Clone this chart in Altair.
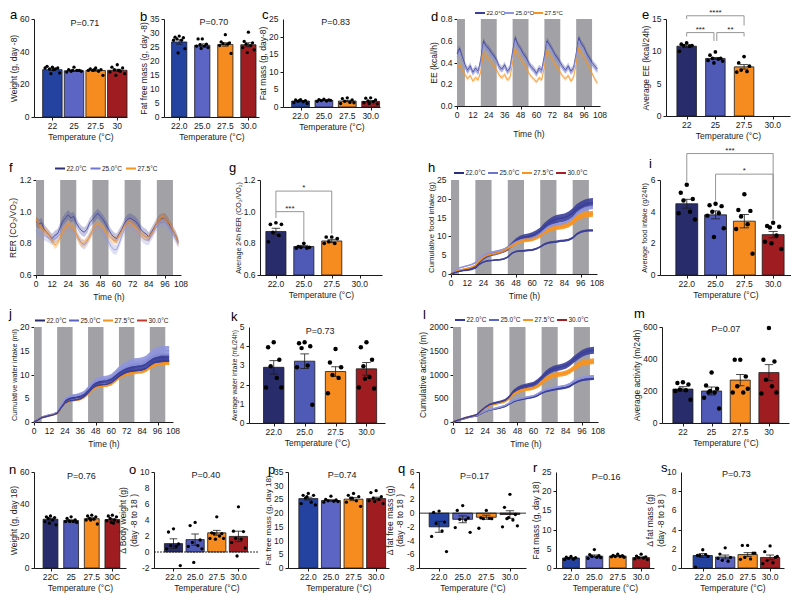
import altair as alt
import pandas as pd

FONT = "Liberation Sans"
INK = "#1a1a1a"
GRAY = "#a2a2a6"
LFS = 8.5

# ---------------- categories / labels ----------------
CATS_INT = ["22", "25", "27.5", "30"]
CATS_DEC = ["22.0", "25.0", "27.5", "30.0"]
CATS_E = ["22", "25", "27.5", "30.0"]
CATS_N = ["22C", "25", "27.5", "30C"]
SERIES = ["22.0°C", "25.0°C", "27.5°C", "30.0°C"]

PAL_A = ["#2442a0", "#5c64c4", "#f68b1f", "#9f1d21"]
PAL_B = ["#282c6a", "#4f59b6", "#f68b1f", "#9f1d21"]

DARK_START = [0, 18, 42, 66, 90]
DARK_END = [6, 30, 54, 78, 102]
T2 = list(range(0, 107, 2))
T3 = list(range(0, 106, 3))
TIME_TICKS = list(range(0, 109, 12))

# ---------------- bar panel data ----------------
A_MEAN = [29.0, 28.3, 28.5, 28.6]
A_SEM = [0.5, 0.35, 0.45, 0.6]
A_PTS = [[30.5, 31.0, 30.0, 29.5, 29.5, 30.0, 27.0, 26.5, 29.0],
         [30.5, 29.0, 28.5, 28.0, 28.5, 27.5, 28.0, 28.5],
         [30.0, 29.5, 29.0, 28.5, 28.0, 28.5, 25.5, 29.0],
         [32.0, 30.5, 30.0, 29.0, 28.0, 27.5, 26.5, 25.5, 28.5]]

B_MEAN = [26.8, 25.6, 25.9, 25.8]
B_SEM = [0.8, 0.5, 0.6, 0.7]
B_PTS = [[28.9, 28.5, 28.3, 27.9, 27.4, 27.4, 24.4, 22.9],
         [27.9, 27.9, 26.0, 25.8, 25.3, 25.3, 24.8, 24.5],
         [29.4, 26.8, 26.5, 26.2, 26.0, 25.5, 22.7],
         [30.3, 27.0, 26.5, 26.0, 25.5, 24.8, 24.0, 23.0]]

C_MEAN = [1.7, 1.9, 1.7, 1.6]
C_SEM = [0.15, 0.1, 0.2, 0.2]
C_PTS = [[2.1, 2.0, 1.8, 1.6, 1.5, 1.2, 1.0, 1.8],
         [2.2, 2.1, 2.0, 1.8, 1.7, 1.6, 1.9],
         [2.6, 2.4, 2.0, 1.6, 1.3, 1.0, 1.2],
         [2.6, 2.5, 2.0, 1.7, 1.5, 1.2, 0.9, 1.0]]

E_MEAN = [10.8, 8.9, 7.6, None]
E_SEM = [0.2, 0.15, 0.35, None]
E_PTS = [[11.3, 11.1, 10.9, 10.9, 10.8, 10.0],
         [9.9, 9.4, 8.9, 8.9, 8.8, 8.6, 8.5, 8.2],
         [9.2, 8.2, 7.7, 7.1, 6.9, 6.8],
         []]
E_BR = [(0, 2, 15.5, 15.0, 14.0, "****"),
        (0, 0.95, 12.9, 12.3, 11.6, "***"),
        (1.05, 2, 12.9, 11.6, 12.3, "**")]

G_MEAN = [0.875, 0.78, 0.815, None]
G_SEM = [0.02, 0.007, 0.01, None]
G_PTS = [[0.93, 0.92, 0.92, 0.87, 0.85, 0.81],
         [0.80, 0.78, 0.775, 0.775, 0.77, 0.77],
         [0.84, 0.84, 0.83, 0.81, 0.80, 0.80],
         []]
G_BR = [(0, 2, 1.13, 1.0, 0.86, "*"),
        (0, 1, 1.0, 0.96, 0.81, "***")]

I_MEAN = [4.5, 3.8, 3.4, 2.55]
I_SEM = [0.28, 0.25, 0.42, 0.2]
I_PTS = [[5.7, 5.2, 4.8, 4.7, 4.0, 3.9, 3.5],
         [4.5, 4.4, 4.35, 4.0, 3.9, 3.75, 2.95, 2.4],
         [5.1, 4.1, 4.05, 3.7, 3.2, 2.9, 1.35],
         [3.3, 3.1, 3.05, 3.0, 2.5, 2.1, 1.65, 2.0]]
I_BR = [(0, 3, 7.67, 5.9, 3.5, "***"),
        (1, 3, 6.37, 4.7, 3.5, "*")]

K_MEAN = [2.9, 3.22, 2.68, 2.82]
K_SEM = [0.35, 0.38, 0.25, 0.33]
K_PTS = [[4.2, 3.95, 3.3, 2.95, 2.35, 1.85, 1.85],
         [4.2, 4.15, 4.0, 3.9, 3.0, 2.9, 0.95],
         [3.85, 3.15, 2.9, 2.5, 2.35, 1.55],
         [4.2, 3.95, 3.3, 2.95, 2.4, 1.85, 1.8, 2.3]]

M_MEAN = [212, 200, 268, 315]
M_SEM = [15, 25, 35, 50]
M_PTS = [[255, 250, 240, 210, 205, 200, 145],
         [316, 234, 214, 190, 190, 158, 90, 200],
         [395, 395, 290, 230, 190, 190, 214],
         [594, 395, 385, 270, 230, 185, 190]]

N_MEAN = [30.5, 29.7, 30.8, 30.3]
N_SEM = [0.6, 0.4, 0.6, 0.5]
N_PTS = [[32.5, 32.0, 31.5, 31.0, 30.0, 29.0, 27.0, 28.0],
         [32.0, 31.0, 30.0, 29.5, 29.0, 29.0, 28.5, 29.0],
         [33.0, 32.5, 32.0, 31.0, 30.5, 30.0, 27.5, 30.0],
         [33.0, 32.5, 32.0, 31.0, 30.0, 29.5, 29.0, 28.5, 28.0]]

O_MEAN = [1.05, 1.55, 2.4, 1.95]
O_SEM = [0.6, 0.7, 0.3, 0.65]
O_PTS = [[2.9, 2.5, 1.0, 0.8, 0.7, 0.4, -1.7],
         [3.7, 3.3, 1.5, 1.2, 0.8, 0.7, 0.4, -1.3],
         [4.4, 2.4, 2.3, 2.3, 2.0, 1.7, 1.7, 1.6],
         [5.65, 2.6, 2.55, 1.7, 1.6, 1.2, 0.5, -0.5]]

P_MEAN = [25.3, 24.6, 25.1, 25.3]
P_SEM = [0.5, 0.3, 0.55, 0.5]
P_PTS = [[27.2, 26.5, 26.5, 25.5, 24.0, 23.5, 23.0, 26.0],
         [26.2, 25.0, 24.8, 24.5, 24.3, 24.0, 24.2],
         [27.2, 26.5, 26.0, 25.5, 24.5, 24.0, 22.5, 25.5],
         [28.2, 27.5, 26.0, 25.5, 25.0, 24.5, 23.5, 24.2]]

Q_MEAN = [-2.0, -0.9, -0.6, -0.2]
Q_SEM = [0.8, 0.5, 0.3, 0.55]
Q_PTS = [[0.3, 0.1, -1.3, -1.5, -2.6, -3.4, -5.6],
         [1.1, 0.4, -0.7, -0.9, -1.0, -2.1, -2.8],
         [0.4, -0.7, -0.8, -0.8, -0.75, -2.2],
         [2.75, 0.85, -0.2, -0.8, -1.0, -2.0, -1.85, -0.65]]

R_MEAN = [2.6, 3.1, 3.1, 2.7]
R_SEM = [0.15, 0.3, 0.12, 0.18]
R_PTS = [[3.0, 2.8, 2.7, 2.5, 2.3, 2.2],
         [4.8, 3.5, 3.2, 3.0, 2.8, 2.5, 2.7],
         [3.6, 3.3, 3.2, 3.0, 3.0, 2.9, 2.8],
         [3.6, 3.1, 2.9, 2.7, 2.6, 2.4, 2.2]]

S_MEAN = [1.3, 1.15, 1.4, 1.1]
S_SEM = [0.2, 0.2, 0.2, 0.25]
S_PTS = [[1.9, 1.3, 1.2, 1.3, 1.4, 0.1],
         [2.1, 1.45, 1.1, 0.8, 0.7, 1.0],
         [2.35, 2.35, 1.55, 1.1, 0.95, 0.9, 1.55],
         [2.3, 1.7, 1.1, 0.8, 0.55, 0.45, 1.2]]

# ---------------- time series data ----------------
EE_22 = [0.48, 0.53, 0.45, 0.38, 0.33, 0.37, 0.31, 0.35, 0.32, 0.43,
         0.60, 0.55, 0.53, 0.49, 0.46, 0.42, 0.36, 0.34, 0.38, 0.32,
         0.35, 0.50, 0.63, 0.56, 0.53, 0.48, 0.45, 0.40, 0.36, 0.34,
         0.30, 0.35, 0.33, 0.46, 0.60, 0.56, 0.52, 0.47, 0.44, 0.40,
         0.36, 0.33, 0.37, 0.32, 0.35, 0.48, 0.63, 0.57, 0.54, 0.48,
         0.44, 0.40, 0.37, 0.34]
EE_25 = [0.45, 0.50, 0.43, 0.36, 0.31, 0.35, 0.30, 0.33, 0.30, 0.40,
         0.57, 0.53, 0.50, 0.47, 0.44, 0.40, 0.34, 0.33, 0.36, 0.31,
         0.33, 0.47, 0.60, 0.54, 0.51, 0.46, 0.43, 0.38, 0.35, 0.32,
         0.29, 0.33, 0.31, 0.43, 0.58, 0.54, 0.50, 0.45, 0.42, 0.38,
         0.34, 0.32, 0.35, 0.31, 0.33, 0.46, 0.60, 0.55, 0.51, 0.46,
         0.42, 0.38, 0.35, 0.32]
EE_27 = [0.35, 0.38, 0.33, 0.29, 0.25, 0.28, 0.23, 0.26, 0.24, 0.32,
         0.50, 0.46, 0.43, 0.40, 0.37, 0.33, 0.28, 0.26, 0.29, 0.24,
         0.26, 0.40, 0.53, 0.47, 0.44, 0.40, 0.36, 0.31, 0.27, 0.25,
         0.22, 0.26, 0.24, 0.36, 0.51, 0.47, 0.43, 0.38, 0.35, 0.31,
         0.27, 0.25, 0.28, 0.23, 0.26, 0.39, 0.54, 0.48, 0.45, 0.40,
         0.35, 0.30, 0.25, 0.21]
EE_SEM = [0.03, 0.025, 0.02]

RER_22 = [0.94, 0.92, 0.93, 0.89, 0.87, 0.85, 0.83, 0.85, 0.86, 0.90,
          0.94, 0.96, 0.98, 0.96, 0.97, 0.93, 0.90, 0.88, 0.87, 0.89,
          0.93, 0.95, 0.97, 0.99, 0.97, 0.95, 0.92, 0.89, 0.86, 0.84,
          0.83, 0.86, 0.89, 0.93, 0.95, 0.96, 0.95, 0.94, 0.92, 0.89,
          0.87, 0.86, 0.84, 0.87, 0.90, 0.93, 0.95, 0.96, 0.96, 0.94,
          0.91, 0.88, 0.85, 0.81]
RER_25 = [0.88, 0.86, 0.87, 0.85, 0.84, 0.83, 0.82, 0.83, 0.84, 0.86,
          0.89, 0.90, 0.91, 0.90, 0.88, 0.86, 0.83, 0.80, 0.79, 0.81,
          0.85, 0.88, 0.90, 0.91, 0.90, 0.87, 0.84, 0.81, 0.78, 0.76,
          0.76, 0.80, 0.85, 0.89, 0.91, 0.92, 0.91, 0.89, 0.87, 0.85,
          0.83, 0.82, 0.82, 0.85, 0.88, 0.91, 0.93, 0.94, 0.93, 0.91,
          0.89, 0.86, 0.83, 0.80]
RER_27 = [0.95, 0.92, 0.90, 0.88, 0.87, 0.85, 0.82, 0.79, 0.80, 0.84,
          0.88, 0.90, 0.92, 0.91, 0.90, 0.86, 0.82, 0.80, 0.80, 0.82,
          0.84, 0.88, 0.91, 0.92, 0.91, 0.90, 0.87, 0.85, 0.83, 0.82,
          0.82, 0.85, 0.88, 0.91, 0.93, 0.93, 0.92, 0.90, 0.88, 0.86,
          0.85, 0.84, 0.84, 0.86, 0.89, 0.93, 0.95, 0.97, 0.96, 0.94,
          0.92, 0.88, 0.85, 0.80]
RER_SEM = [0.03, 0.03, 0.025]

FOOD_22 = [0, 0.5, 0.8, 1.0, 1.2, 1.5, 2.0, 3.2, 4.2, 4.9,
           5.3, 5.5, 5.8, 6.2, 6.8, 7.8, 8.8, 9.4, 9.8, 10.0,
           10.3, 10.8, 11.5, 12.6, 13.5, 14.2, 14.6, 14.8, 15.0, 15.5,
           16.3, 17.4, 18.0, 18.5, 18.8, 18.9]
FOOD_25 = [0, 1.0, 1.6, 1.9, 2.2, 2.5, 3.0, 4.2, 5.0, 5.5,
           5.8, 6.0, 6.2, 6.5, 7.0, 7.8, 8.5, 8.9, 9.1, 9.2,
           9.4, 9.9, 10.6, 11.6, 12.4, 12.9, 13.1, 13.3, 13.5, 14.0,
           14.8, 16.0, 16.8, 17.3, 17.6, 17.7]
FOOD_27 = [0, 0.6, 1.0, 1.3, 1.5, 1.8, 2.3, 3.5, 4.4, 5.0,
           5.3, 5.5, 5.8, 6.2, 6.8, 7.5, 8.2, 8.7, 8.9, 9.0,
           9.2, 9.6, 10.2, 11.1, 11.7, 12.1, 12.3, 12.5, 12.7, 13.1,
           13.8, 14.8, 15.4, 15.7, 15.9, 16.0]
FOOD_30 = [0, 0.4, 0.7, 0.9, 1.0, 1.2, 1.6, 2.6, 3.2, 3.5,
           3.6, 3.7, 3.8, 4.0, 4.5, 5.5, 6.0, 6.1, 6.2, 6.3,
           6.4, 6.7, 7.2, 7.9, 8.3, 8.5, 8.6, 8.8, 8.9, 9.1,
           9.6, 10.6, 11.2, 11.5, 11.6, 11.6]
FOOD_SEM_22 = [0, 0.1, 0.15, 0.2, 0.2, 0.25, 0.3, 0.35, 0.4, 0.45,
               0.5, 0.5, 0.5, 0.55, 0.6, 0.65, 0.7, 0.75, 0.8, 0.8,
               0.8, 0.85, 0.9, 0.95, 1.0, 1.05, 1.1, 1.1, 1.1, 1.15,
               1.2, 1.25, 1.3, 1.3, 1.3, 1.3]
FOOD_SEM_25 = [0, 0.1, 0.1, 0.15, 0.15, 0.15, 0.2, 0.2, 0.25, 0.25,
               0.25, 0.25, 0.3, 0.3, 0.3, 0.3, 0.3, 0.35, 0.35, 0.35,
               0.35, 0.35, 0.4, 0.4, 0.4, 0.4, 0.4, 0.45, 0.45, 0.45,
               0.45, 0.5, 0.5, 0.5, 0.5, 0.5]
FOOD_SEM_27 = [0, 0.05, 0.1, 0.1, 0.15, 0.15, 0.2, 0.2, 0.25, 0.25,
               0.3, 0.3, 0.3, 0.35, 0.35, 0.4, 0.4, 0.45, 0.45, 0.5,
               0.5, 0.5, 0.55, 0.55, 0.6, 0.6, 0.6, 0.65, 0.65, 0.7,
               0.7, 0.75, 0.8, 0.8, 0.8, 0.8]
FOOD_SEM_30 = [0, 0.05, 0.05, 0.1, 0.1, 0.1, 0.1, 0.15, 0.15, 0.15,
               0.15, 0.2, 0.2, 0.2, 0.2, 0.2, 0.2, 0.2, 0.25, 0.25,
               0.25, 0.25, 0.25, 0.25, 0.25, 0.3, 0.3, 0.3, 0.3, 0.3,
               0.3, 0.3, 0.3, 0.3, 0.3, 0.3]

WATER_22 = [0, 0.5, 1.0, 1.2, 1.4, 1.6, 1.9, 3.2, 4.4, 4.9,
            5.1, 5.2, 5.4, 5.8, 6.6, 7.6, 8.2, 8.5, 8.6, 8.7,
            9.0, 9.6, 10.3, 10.8, 11.2, 11.5, 11.6, 11.7, 11.8, 12.2,
            12.8, 13.3, 13.5, 13.6, 13.6, 13.6]
WATER_25 = [0, 0.5, 1.0, 1.3, 1.5, 1.7, 2.0, 3.5, 4.8, 5.3,
            5.5, 5.6, 5.8, 6.2, 7.0, 8.0, 8.7, 9.0, 9.1, 9.2,
            9.5, 10.2, 11.0, 11.6, 12.0, 12.4, 12.6, 12.7, 12.8, 13.1,
            13.8, 14.5, 14.8, 15.0, 15.0, 15.0]
WATER_27 = [0, 0.4, 0.9, 1.1, 1.3, 1.5, 1.8, 2.9, 3.9, 4.3,
            4.5, 4.6, 4.8, 5.2, 5.9, 6.8, 7.3, 7.5, 7.6, 7.7,
            8.0, 8.6, 9.3, 9.8, 10.1, 10.3, 10.4, 10.5, 10.6, 10.9,
            11.5, 12.0, 12.2, 12.3, 12.4, 12.4]
WATER_30 = [0, 0.4, 0.9, 1.1, 1.3, 1.5, 1.8, 3.0, 4.0, 4.4,
            4.6, 4.7, 4.9, 5.4, 6.1, 7.0, 7.6, 7.8, 7.9, 8.0,
            8.3, 8.9, 9.6, 10.1, 10.5, 10.7, 10.8, 10.9, 11.0, 11.3,
            11.9, 12.5, 12.7, 12.8, 12.9, 12.9]
WATER_SEM_22 = [0, 0.05, 0.1, 0.1, 0.1, 0.15, 0.15, 0.2, 0.25, 0.3,
                0.3, 0.3, 0.35, 0.35, 0.4, 0.45, 0.5, 0.5, 0.5, 0.55,
                0.55, 0.6, 0.65, 0.65, 0.7, 0.7, 0.7, 0.75, 0.75, 0.75,
                0.8, 0.85, 0.9, 0.9, 0.9, 0.9]
WATER_SEM_25 = [0, 0.05, 0.1, 0.1, 0.15, 0.15, 0.2, 0.25, 0.3, 0.3,
                0.35, 0.35, 0.4, 0.4, 0.45, 0.5, 0.55, 0.55, 0.6, 0.6,
                0.6, 0.65, 0.7, 0.75, 0.75, 0.8, 0.8, 0.8, 0.85, 0.85,
                0.9, 0.95, 1.0, 1.0, 1.0, 1.0]
WATER_SEM_27 = [0, 0.03, 0.05, 0.05, 0.08, 0.08, 0.1, 0.12, 0.15, 0.15,
                0.18, 0.18, 0.2, 0.2, 0.22, 0.25, 0.25, 0.28, 0.28, 0.3,
                0.3, 0.3, 0.32, 0.32, 0.35, 0.35, 0.35, 0.35, 0.38, 0.38,
                0.38, 0.4, 0.4, 0.4, 0.4, 0.4]
WATER_SEM_30 = [0, 0.02, 0.03, 0.05, 0.05, 0.05, 0.07, 0.08, 0.1, 0.1,
                0.1, 0.12, 0.12, 0.13, 0.14, 0.15, 0.16, 0.17, 0.17, 0.18,
                0.18, 0.19, 0.2, 0.2, 0.21, 0.22, 0.22, 0.22, 0.23, 0.23,
                0.24, 0.25, 0.25, 0.25, 0.25, 0.25]

ACT_22 = [0, 25, 50, 75, 100, 115, 130, 180, 220, 250,
          270, 285, 305, 330, 380, 430, 460, 480, 495, 510,
          525, 560, 610, 645, 665, 685, 700, 712, 725, 755,
          810, 855, 885, 900, 910, 915]
ACT_25 = [0, 28, 55, 80, 105, 120, 140, 190, 230, 260,
          280, 300, 320, 350, 400, 450, 480, 500, 515, 530,
          550, 590, 640, 680, 700, 720, 735, 750, 765, 800,
          860, 900, 930, 945, 955, 960]
ACT_27 = [0, 30, 60, 90, 110, 130, 160, 240, 300, 340,
          370, 390, 410, 440, 500, 590, 640, 670, 690, 700,
          720, 760, 820, 900, 950, 980, 1000, 1010, 1030, 1070,
          1130, 1200, 1240, 1260, 1270, 1280]
ACT_30 = [0, 30, 60, 90, 110, 130, 160, 240, 310, 360,
          390, 410, 430, 460, 530, 640, 700, 740, 760, 780,
          800, 850, 930, 1020, 1080, 1120, 1140, 1160, 1190, 1240,
          1320, 1380, 1440, 1480, 1500, 1510]
ACT_SEM_22 = [0, 2, 4, 5, 6, 7, 8, 10, 11, 12,
              13, 14, 15, 16, 17, 18, 19, 20, 20, 21,
              21, 22, 23, 24, 24, 25, 25, 26, 26, 27,
              27, 28, 29, 30, 30, 30]
ACT_SEM_25 = [0, 2, 4, 5, 6, 7, 8, 10, 11, 12,
              13, 14, 15, 16, 17, 18, 19, 20, 20, 21,
              21, 22, 23, 24, 24, 25, 25, 26, 26, 27,
              28, 29, 30, 31, 32, 32]
ACT_SEM_27 = [0, 3, 5, 6, 8, 9, 11, 15, 18, 21,
              23, 24, 25, 27, 30, 34, 36, 38, 39, 40,
              41, 43, 46, 48, 50, 51, 52, 53, 54, 55,
              57, 58, 60, 60, 60, 60]
ACT_SEM_30 = [0, 3, 5, 6, 8, 9, 11, 16, 20, 23,
              25, 26, 28, 30, 34, 40, 43, 45, 47, 48,
              50, 53, 56, 60, 62, 64, 65, 66, 67, 68,
              70, 72, 74, 75, 75, 75]

# ---------------- helpers ----------------
JIT = [0.0, -0.55, 0.55, -0.3, 0.3, -0.75, 0.75, -0.15, 0.15]
CW = {c: 0.556 for c in "0123456789abdeghnopqu"}
CW.update({".": 0.278, "-": 0.333, " ": 0.278, "(": 0.333, ")": 0.333, "/": 0.278,
           ",": 0.278, "c": 0.5, "k": 0.5, "s": 0.5, "v": 0.5, "x": 0.5, "y": 0.5,
           "z": 0.5, "f": 0.278, "t": 0.278, "i": 0.222, "j": 0.222, "l": 0.222,
           "r": 0.333, "m": 0.833, "w": 0.722, "A": 0.667, "B": 0.667, "C": 0.722,
           "E": 0.667, "F": 0.611, "L": 0.556, "O": 0.778, "R": 0.722, "V": 0.667,
           "W": 0.944, "Δ": 0.668, "₂": 0.4, "°": 0.4})


def text_w(s, fs=LFS):
    return sum(CW.get(c, 0.6) for c in s) * fs


def tick_str(v, fmt):
    return ("%.1f" % v) if fmt == ".1f" else str(int(round(v)))


def letter_layer(letter, pos):
    return alt.Chart(pd.DataFrame({"t": [letter]})).mark_text(
        fontSize=13, font=FONT, align="left", baseline="alphabetic", color="black"
    ).encode(text="t:N", x=alt.value(pos[0]), y=alt.value(pos[1]))


def xlabel_layer(pos, strs, height):
    df = pd.DataFrame({"p": pos, "s": strs})
    return alt.Chart(df).mark_text(fontSize=LFS, font=FONT, baseline="top", color=INK).encode(
        x="p:Q", y=alt.value(height + 4.5), text="s:N")


def ylabel_layer(vals, fmt):
    df = pd.DataFrame({"v": vals, "s": [tick_str(v, fmt) for v in vals]})
    return alt.Chart(df).mark_text(fontSize=LFS, font=FONT, align="right", baseline="middle",
                                   color=INK).encode(x=alt.value(-4.5), y="v:Q", text="s:N")


def y_axis(vals, title, fmt, height):
    w = max(text_w(tick_str(v, fmt)) for v in vals)
    lines = title if isinstance(title, list) else [title]
    tw = max(text_w(l, 8.5) for l in lines)
    fs = round(min(8.5, 8.5 * (height - 3) / tw), 2)
    return alt.Axis(values=vals, labels=False, title=title, titlePadding=3 + w,
                    titleFontSize=fs)


def bar_panel(letter, lpos, labels, means, sems, points, colors, ydom, yticks, ytitle,
              width, height, L, R, hw, fmt="d", ptext=None, py=None, brackets=None,
              zero=None, dot=11):
    n = len(labels)
    base_v = max(ydom[0], 0)
    rows = []
    for i in range(n):
        if means[i] is None:
            continue
        m, s = means[i], sems[i]
        rows.append(dict(pos=i, x1=i - hw, x2=i + hw, base=base_v, mean=m,
                         lo=m - s, hi=m + s, c1=i - hw * 0.42, c2=i + hw * 0.42,
                         color=colors[i]))
    bdf = pd.DataFrame(rows)
    prow = []
    for i, vals in enumerate(points):
        for k, v in enumerate(vals):
            prow.append(dict(px=i + JIT[k % len(JIT)] * hw, val=v))
    pdf = pd.DataFrame(prow)
    xsc = alt.Scale(domain=[-L, n - 1 + R], nice=False, zero=False)
    ysc = alt.Scale(domain=list(ydom), nice=False, zero=False)
    xax = alt.Axis(values=list(range(n)), labels=False, title="Temperature (°C)", titlePadding=12)
    base = alt.Chart(bdf)
    layers = [base.mark_rect(stroke=INK, strokeWidth=0.8).encode(
        x=alt.X("x1:Q", scale=xsc, axis=xax), x2="x2:Q",
        y=alt.Y("base:Q", scale=ysc, axis=y_axis(yticks, ytitle, fmt, height)), y2="mean:Q",
        fill=alt.Fill("color:N", scale=None))]
    if zero is not None:
        zdf = pd.DataFrame({"a": [-L], "b": [n - 1 + R], "y": [0]})
        zmark = alt.Chart(zdf).mark_rule(color=INK, strokeWidth=0.9,
                                          strokeDash=[2, 1] if zero == "dot" else [1, 0])
        layers.append(zmark.encode(x="a:Q", x2="b:Q", y="y:Q"))
    layers.append(base.mark_rule(color=INK, strokeWidth=0.8).encode(x="pos:Q", y="lo:Q", y2="hi:Q"))
    layers.append(base.mark_rule(color=INK, strokeWidth=0.8).encode(x="c1:Q", x2="c2:Q", y="hi:Q"))
    layers.append(base.mark_rule(color=INK, strokeWidth=0.8).encode(x="c1:Q", x2="c2:Q", y="lo:Q"))
    layers.append(alt.Chart(pdf).mark_circle(color="black", opacity=1, size=dot).encode(
        x="px:Q", y="val:Q"))
    if brackets:
        br = pd.DataFrame(brackets, columns=["a", "b", "y", "yl", "yr", "lab"])
        br["mid"] = (br["a"] + br["b"]) / 2
        bc = alt.Chart(br)
        layers.append(bc.mark_rule(color="#8a8a8a", strokeWidth=0.9).encode(x="a:Q", x2="b:Q", y="y:Q"))
        layers.append(bc.mark_rule(color="#8a8a8a", strokeWidth=0.9).encode(x="a:Q", y="y:Q", y2="yl:Q"))
        layers.append(bc.mark_rule(color="#8a8a8a", strokeWidth=0.9).encode(x="b:Q", y="y:Q", y2="yr:Q"))
        layers.append(bc.mark_text(fontSize=8, font=FONT, baseline="alphabetic", dy=-1,
                                   color=INK).encode(x="mid:Q", y="y:Q", text="lab:N"))
    if ptext:
        tdf = pd.DataFrame({"x": [(n - 1) / 2], "y": [py], "t": [ptext]})
        layers.append(alt.Chart(tdf).mark_text(fontSize=9, font=FONT, baseline="middle",
                                               color=INK).encode(x="x:Q", y="y:Q", text="t:N"))
    layers.append(xlabel_layer(list(range(n)), labels, height))
    layers.append(ylabel_layer(yticks, fmt))
    layers.append(letter_layer(letter, lpos))
    return alt.layer(*layers).properties(width=width, height=height)


def ts_panel(letter, lpos, t, means, sems, colors, ydom, yticks, ytitle, width, height,
             leg, band_op, lw, fmt="d", xtp=14):
    k = len(means)
    names = SERIES[:k]
    rows = []
    for name, mm, ss in zip(names, means, sems):
        if not isinstance(ss, list):
            ss = [ss] * len(mm)
        for tt, m, s in zip(t, mm, ss):
            rows.append(dict(t=tt, series=name, mean=m, lo=m - s, hi=m + s))
    df = pd.DataFrame(rows)
    dark = pd.DataFrame({"s": DARK_START, "e": DARK_END})
    dark["y0"] = ydom[0]
    dark["y1"] = ydom[1]
    xsc = alt.Scale(domain=[0, 108], nice=False, zero=False)
    ysc = alt.Scale(domain=list(ydom), nice=False, zero=False)
    cscale = alt.Scale(domain=names, range=colors)
    xax = alt.Axis(values=TIME_TICKS, labels=False, title="Time (h)", titlePadding=xtp)
    rect = alt.Chart(dark).mark_rect(color=GRAY).encode(
        x=alt.X("s:Q", scale=xsc, axis=xax), x2="e:Q",
        y=alt.Y("y0:Q", scale=ysc, axis=y_axis(yticks, ytitle, fmt, height)), y2="y1:Q")
    area = alt.Chart(df).mark_area(opacity=band_op).encode(
        x="t:Q", y=alt.Y("lo:Q", stack=None), y2="hi:Q",
        color=alt.Color("series:N", scale=cscale, legend=None))
    line = alt.Chart(df).mark_line(strokeWidth=lw).encode(
        x="t:Q", y="mean:Q", color=alt.Color("series:N", scale=cscale, legend=None))
    # legend drawn above the plot (positions converted to data units of this panel)
    lx0, pitch, ly, lfs = leg
    xu = 108.0 / width
    yv = ydom[1] + (-ly) * (ydom[1] - ydom[0]) / height
    ldf = pd.DataFrame({
        "s1": [(lx0 + i * pitch) * xu for i in range(k)],
        "s2": [(lx0 + i * pitch + 10) * xu for i in range(k)],
        "tx": [(lx0 + i * pitch + 11.5) * xu for i in range(k)],
        "yy": [yv] * k, "lab": names, "col": colors[:k]})
    lsym = alt.Chart(ldf).mark_rule(strokeWidth=2).encode(
        x="s1:Q", x2="s2:Q", y="yy:Q", stroke=alt.Stroke("col:N", scale=None))
    ltxt = alt.Chart(ldf).mark_text(fontSize=lfs, font=FONT, align="left", baseline="middle",
                                    color=INK).encode(x="tx:Q", y="yy:Q", text="lab:N")
    return alt.layer(rect, area, line, lsym, ltxt,
                     xlabel_layer(TIME_TICKS, [str(v) for v in TIME_TICKS], height),
                     ylabel_layer(yticks, fmt),
                     letter_layer(letter, lpos)).properties(width=width, height=height)


def spacer(w):
    return alt.Chart(pd.DataFrame({"v": [0]})).mark_point(opacity=0).encode(
        x=alt.value(0), y=alt.value(0)).properties(width=w, height=1)


def guard(w, above, below):
    # invisible leading column of a row: fixes the row's vertical extent
    return alt.Chart(pd.DataFrame({"v": [0]})).mark_rule(strokeOpacity=0, strokeWidth=1).encode(
        x=alt.value(0), y=alt.value(-above), y2=alt.value(below)).properties(width=w, height=1)


# ---------------- panels ----------------
pa = bar_panel("a", (-24, 0), CATS_INT, A_MEAN, A_SEM, A_PTS, PAL_A, (0, 60), [0, 20, 40, 60],
               "Weight (g, day -8)", 93, 98, 0.85, 0.45, 0.45, ptext="P=0.71", py=57.5)
pb = bar_panel("b", (-24, 2), CATS_DEC, B_MEAN, B_SEM, B_PTS, PAL_A, (0, 35), list(range(0, 36, 5)),
               "Fat free mass  (g, day -8)", 95, 98, 0.66, 0.46, 0.33, ptext="P=0.70", py=34.0)
pc = bar_panel("c", (-21, 0), CATS_DEC, C_MEAN, C_SEM, C_PTS, PAL_A, (0, 25), list(range(0, 26, 5)),
               "Fat mass  (g, day-8)", 97, 88, 0.75, 0.4, 0.38, ptext="P=0.83", py=24.2)
pd_ = ts_panel("d", (-26, 2), T2, [EE_22, EE_25, EE_27], EE_SEM,
               ["#3a3f9a", "#8f95dc", "#f7931e"], (0, 0.8), [0, 0.2, 0.4, 0.6, 0.8],
               "EE (kcal/h)", 143, 87, (18, 29, -6, 6), 0.3, 0.8, fmt=".1f", xtp=20)
pe = bar_panel("e", (-24, 0), CATS_E, E_MEAN, E_SEM, E_PTS, PAL_B, (0, 15), [0, 5, 10, 15],
               "Average EE (kcal/24h)", 124, 97, 0.72, 0.6, 0.34, brackets=E_BR, dot=14)

pf = ts_panel("f", (-27, -8), T2, [RER_22, RER_25, RER_27], RER_SEM,
              ["#2e3179", "#6e76cf", "#f7931e"], (0.6, 1.2), [0.6, 0.8, 1.0, 1.2],
              "RER (CO₂/VO₂)", 145, 95, (19, 35.5, -11.5, 6.5), 0.3, 0.8, fmt=".1f")
pg = bar_panel("g", (-31, -8), CATS_DEC, G_MEAN, G_SEM, G_PTS, PAL_B, (0.6, 1.2), [0.6, 0.8, 1.0, 1.2],
               "Average 24h RER (CO₂/VO₂)", 122, 95, 0.57, 0.8, 0.36, fmt=".1f", brackets=G_BR, dot=14)
ph = ts_panel("h", (-23, -8), T3, [FOOD_22, FOOD_25, FOOD_27, FOOD_30],
              [FOOD_SEM_22, FOOD_SEM_25, FOOD_SEM_27, FOOD_SEM_30],
              ["#2b2f7a", "#6b74cf", "#f7931e", "#a51f24"], (0, 25), list(range(0, 26, 5)),
              "Cumulative food intake (g)", 146, 94, (3, 34, -7, 6.5), 0.9, 1.5)
pi = bar_panel("i", (-11, -12), CATS_DEC, I_MEAN, I_SEM, I_PTS, PAL_B, (0, 6), [0, 2, 4, 6],
               "Average food intake  (g/24h)", 131, 95, 0.93, 0.62, 0.38, brackets=I_BR, dot=20)

pj = ts_panel("j", (-25, -9), T3, [WATER_22, WATER_25, WATER_27, WATER_30],
              [WATER_SEM_22, WATER_SEM_25, WATER_SEM_27, WATER_SEM_30],
              ["#2b2d6e", "#5a63c0", "#f7931e", "#c0392b"], (0, 20), [0, 5, 10, 15, 20],
              "Cumulative water intake (ml)", 139, 95, (1, 34, -6.5, 6.5), 0.9, 1.5)
pk = bar_panel("k", (-18, -6), CATS_DEC, K_MEAN, K_SEM, K_PTS, PAL_B, (0, 5), [0, 1, 2, 3, 4, 5],
               "Average water intake  (mL/24h)", 136, 96, 0.8, 0.6, 0.33, ptext="P=0.73", py=4.8, dot=20)
pl = ts_panel("l", (-30, -8), T3, [ACT_22, ACT_25, ACT_27, ACT_30],
              [ACT_SEM_22, ACT_SEM_25, ACT_SEM_27, ACT_SEM_30],
              ["#333a9c", "#5c66c8", "#f7931e", "#a01e22"], (0, 2000), [0, 500, 1000, 1500, 2000],
              "Cumulative activity (m)", 145, 95, (2, 34, -7, 6.5), 0.9, 1.5)
pm = bar_panel("m", (-28, -9), CATS_INT, M_MEAN, M_SEM, M_PTS, PAL_B, (0, 600), [0, 200, 400, 600],
               "Average activity (m/24h)", 127, 96, 0.73, 0.7, 0.35, ptext="P=0.07", py=588, dot=20)

pn = bar_panel("n", (-25, 2), CATS_N, N_MEAN, N_SEM, N_PTS, PAL_B, (0, 60), [0, 20, 40, 60],
               "Weight (g, day 18)", 92, 96, 0.8, 0.66, 0.36, ptext="P=0.76", py=57.2)
po = bar_panel("o", (-25, 2), CATS_DEC, O_MEAN, O_SEM, O_PTS, PAL_B, (-2, 10), list(range(-2, 11, 2)),
               ["Δ Body weight (g)", "(day -8 to 18 )"], 105, 96, 0.9, 0.95, 0.42,
               ptext="P=0.40", py=9.6, zero="dot")
pp = bar_panel("p", (-20, 2), CATS_DEC, P_MEAN, P_SEM, P_PTS, PAL_A, (0, 35), list(range(0, 36, 5)),
               "Fat free mass  (g, day 18)", 101, 96, 0.9, 0.57, 0.42, ptext="P=0.74", py=33.8)
pq = bar_panel("q", (-21, 1), CATS_DEC, Q_MEAN, Q_SEM, Q_PTS, PAL_A, (-8, 6), list(range(-8, 7, 2)),
               ["Δ fat free mass (g)", "(day -8 to 18 )"], 107, 96, 0.85, 0.68, 0.42,
               ptext="P=0.17", py=5.4, zero="solid")
pr = bar_panel("r", (-23, 0), CATS_DEC, R_MEAN, R_SEM, R_PTS, PAL_A, (0, 25), list(range(0, 26, 5)),
               "Fat mass  (g, day 18)", 98, 96, 0.64, 0.55, 0.36, ptext="P=0.16", py=23.7)
ps = bar_panel("s", (-20, 0), CATS_DEC, S_MEAN, S_SEM, S_PTS, PAL_A, (0, 10), list(range(0, 11, 2)),
               ["Δ fat mass (g)", "(day -8 to 18 )"], 103, 96, 0.97, 0.62, 0.43,
               ptext="P=0.73", py=9.8)


# ---------------- layout: rows are flush hconcats, stacked in a vconcat ----------------
def row(*items):
    return alt.hconcat(*items, spacing=0, bounds="flush")


row1 = row(guard(25, 16, 98 + 25), pa, spacer(37), pb, spacer(24), pc, spacer(77), pd_,
           spacer(66), pe)
row2 = row(guard(27, 38, 95 + 27), pf, spacer(79), pg, spacer(69), ph, spacer(63), pi)
row3 = row(guard(25, 25, 96 + 27), pj, spacer(76), pk, spacer(68), pl, spacer(64), pm)
row4 = row(guard(25, 22, 96 + 27), pn, spacer(28), po, spacer(29), pp, spacer(30), pq,
           spacer(30), pr, spacer(27), ps)

chart = alt.vconcat(row1, row2, row3, row4, spacing=0).properties(
    padding={"left": 0, "top": -5, "right": 0, "bottom": 0}
).configure_view(stroke=None).configure_axis(
    labelFont=FONT, titleFont=FONT, labelFontSize=LFS, titleFontSize=8.5,
    titleFontWeight="normal", labelColor=INK, titleColor=INK, domainColor=INK,
    tickColor=INK, tickSize=3, grid=False, domainWidth=1, tickWidth=1
).configure_text(font=FONT)

chart.save("out.html", embed_options={"renderer": "svg", "actions": False})
